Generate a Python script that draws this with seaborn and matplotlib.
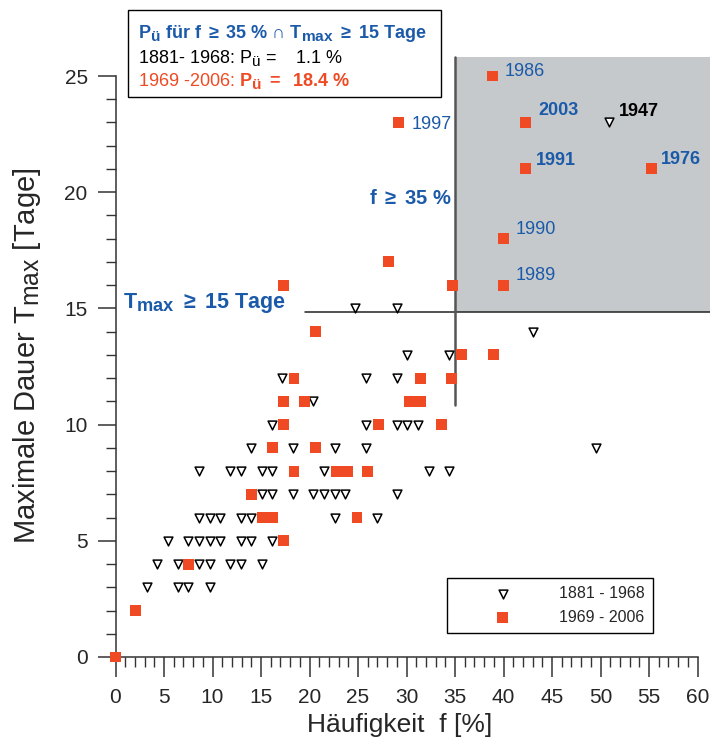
import matplotlib
matplotlib.use("Agg")
import matplotlib.pyplot as plt
import seaborn as sns
from matplotlib.ticker import MultipleLocator
from matplotlib.patches import Rectangle

try:
    # larger indices (Tmax, Pü) than the mathtext default
    import matplotlib._mathtext as _mt
    _mt.SHRINK_FACTOR = 0.85
except Exception:
    pass

# Sommer 1881-1968: Häufigkeit f [%] und maximale Dauer Tmax [Tage]
f_early = [3.2, 6.4, 7.5, 9.7,
           4.3, 6.4, 8.6, 9.7, 11.8, 12.9, 15.1,
           5.4, 7.5, 8.6, 9.7, 10.8, 12.9, 14.0, 16.1,
           8.6, 9.7, 10.8, 12.9, 14.0, 22.6, 27.0,
           15.1, 16.1, 18.3, 20.4, 21.5, 22.6, 23.7, 29.0,
           8.6, 11.8, 12.9, 15.1, 16.1, 21.5, 32.3, 34.4,
           14.0, 18.3, 22.6, 25.8, 49.5,
           16.1, 25.8, 29.0, 30.1, 31.2,
           20.4,
           17.2, 25.8, 29.0,
           30.1, 34.4,
           43.0,
           24.7, 29.0,
           50.9]
t_early = [3, 3, 3, 3,
           4, 4, 4, 4, 4, 4, 4,
           5, 5, 5, 5, 5, 5, 5, 5,
           6, 6, 6, 6, 6, 6, 6,
           7, 7, 7, 7, 7, 7, 7, 7,
           8, 8, 8, 8, 8, 8, 8, 8,
           9, 9, 9, 9, 9,
           10, 10, 10, 10, 10,
           11,
           12, 12, 12,
           13, 13,
           14,
           15, 15,
           23]

# Sommer 1969-2006
f_late = [0.0, 2.1, 7.5, 17.3, 15.1, 16.2, 24.9, 14.0,
          18.4, 22.8, 23.9, 26.0, 16.2, 20.6,
          17.3, 27.1, 33.6, 17.3, 19.5, 30.3, 31.4,
          18.4, 31.4, 34.6, 35.7, 39.0, 20.6,
          17.3, 34.7, 40.0, 28.1, 40.0, 42.3, 55.3,
          29.2, 42.3, 38.9]
t_late = [0, 2, 4, 5, 6, 6, 6, 7,
          8, 8, 8, 8, 9, 9,
          10, 10, 10, 11, 11, 11, 11,
          12, 12, 12, 13, 13, 14,
          16, 16, 16, 17, 18, 21, 21,
          23, 23, 25]

period_labels = ["1881 - 1968", "1969 - 2006"]

# beschriftete Jahre
years = ["1986", "2003", "1947", "1991", "1976", "1990", "1989", "1997"]
year_f = [38.9, 42.3, 50.9, 42.3, 55.3, 40.0, 40.0, 29.2]
year_t = [25, 23, 23, 21, 21, 18, 16, 23]
year_bold = [False, True, True, True, True, False, False, False]
year_color = ["#1b5aa8", "#1b5aa8", "black", "#1b5aa8", "#1b5aa8",
              "#1b5aa8", "#1b5aa8", "#1b5aa8"]
year_offset = [(12, 4), (13, 12), (10, 11), (10, 8), (9, 9),
               (12, 9), (12, 10), (13, -2)]

# Schwellenwerte
f_limit = 35
t_limit = 14.85

BLUE = "#1b5aa8"
RED = "#ef4a23"
AXC = "#333333"

sns.set_style("ticks")
plt.rcParams["font.family"] = ["Liberation Sans", "DejaVu Sans"]
plt.rcParams["mathtext.fontset"] = "custom"
plt.rcParams["mathtext.rm"] = "Liberation Sans"
plt.rcParams["mathtext.bf"] = "Liberation Sans:bold"
plt.rcParams["mathtext.it"] = "Liberation Sans:italic"
plt.rcParams["mathtext.default"] = "regular"

fig = plt.figure(figsize=(7.1, 7.38), dpi=100)
ax = fig.add_axes([115.5 / 710, 1 - 657 / 738, 582 / 710, (657 - 76) / 738])

# Bereich f >= 35 % und Tmax >= 15 Tage
ax.add_patch(Rectangle((f_limit, t_limit), 27, 25.8 - t_limit,
                       facecolor="#c5c9cc", edgecolor="none",
                       clip_on=False, zorder=0))
ax.plot([19.5, 62], [t_limit, t_limit], color="#222222", lw=1.1,
        clip_on=False, zorder=1)
ax.plot([f_limit, f_limit], [10.85, 25.8], color="#555555", lw=1.8,
        clip_on=False, zorder=1)

sns.scatterplot(x=f_early, y=t_early, ax=ax, marker="v", s=40,
                color="white", edgecolor="black", linewidth=1.1,
                label=period_labels[0], zorder=3, clip_on=False)
sns.scatterplot(x=f_late, y=t_late, ax=ax, marker="s", s=62,
                color=RED, edgecolor="none", linewidth=0,
                label=period_labels[1], zorder=4, clip_on=False)

for yr, fx, ty, bold, col, off in zip(years, year_f, year_t, year_bold,
                                      year_color, year_offset):
    ax.annotate(yr, (fx, ty), xytext=off, textcoords="offset pixels",
                ha="left", va="center", fontsize=13, color=col,
                fontweight="bold" if bold else "normal", zorder=5)

ax.text(26.1, 19.49, r"f $\geq$ 35 %", fontsize=14.5, fontweight="bold",
        color=BLUE, ha="left", va="baseline")
ax.text(0.75, 15.0, r"$\mathbf{T_{max}}$ $\geq$ 15 Tage", fontsize=15.5,
        fontweight="bold", color=BLUE, ha="left", va="baseline")

ax.set_xlim(0, 60)
ax.set_ylim(0, 25)
ax.xaxis.set_major_locator(MultipleLocator(5))
ax.xaxis.set_minor_locator(MultipleLocator(1))
ax.yaxis.set_major_locator(MultipleLocator(5))
ax.yaxis.set_minor_locator(MultipleLocator(1))
ax.tick_params(axis="x", which="major", direction="out", length=14.5,
               width=1.1, pad=8, labelsize=15, color=AXC)
ax.tick_params(axis="x", which="minor", direction="out", length=7,
               width=1.0, color=AXC)
ax.tick_params(axis="y", which="major", direction="out", length=13,
               width=1.1, pad=7, labelsize=15, color=AXC)
ax.tick_params(axis="y", which="minor", direction="out", length=7,
               width=1.0, color=AXC)
for side in ["top", "right"]:
    ax.spines[side].set_visible(False)
for side in ["left", "bottom"]:
    ax.spines[side].set_color(AXC)
    ax.spines[side].set_linewidth(1.1)

ax.set_xlabel("Häufigkeit  f [%]", fontsize=19)
ax.set_ylabel(r"Maximale Dauer $\mathrm{T_{max}}$ [Tage]", fontsize=21)
ax.xaxis.set_label_coords(0.489, -0.096)
ax.yaxis.set_label_coords(-0.125, 0.518)

leg = ax.legend(loc="upper left", bbox_to_anchor=(447 / 710, 1 - 578 / 738),
                bbox_transform=fig.transFigure, frameon=True, fancybox=False,
                edgecolor="black", facecolor="white", framealpha=1,
                borderpad=0.5, handlelength=6, handletextpad=0.5,
                labelspacing=0.55, fontsize=11.5, borderaxespad=0)
leg.get_frame().set_linewidth(1.0)

# Kasten mit Überschreitungswahrscheinlichkeiten
fig.add_artist(Rectangle((128 / 710, 1 - 97 / 738), 313 / 710, 87 / 738,
                         transform=fig.transFigure, facecolor="white",
                         edgecolor="black", lw=1.0))
x0 = 138 / 710
fig.text(x0, 1 - 38.3 / 738,
         r"$\mathbf{P_{ü}}$ für f $\geq$ 35 % $\cap$ $\mathbf{T_{max}}$ $\geq$ 15 Tage",
         fontsize=13, fontweight="bold", color=BLUE, va="baseline")
fig.text(x0, 1 - 63.3 / 738, r"1881- 1968: $\mathrm{P_{ü}}$ =    1.1 %",
         fontsize=13, color="black", va="baseline")
fig.text(x0, 1 - 86 / 738,
         r"1969 -2006: $\mathbf{P_{ü}\ =\ \ 18.4\ \%}$",
         fontsize=13, color=RED, va="baseline")

fig.savefig("out.png", dpi=100)
